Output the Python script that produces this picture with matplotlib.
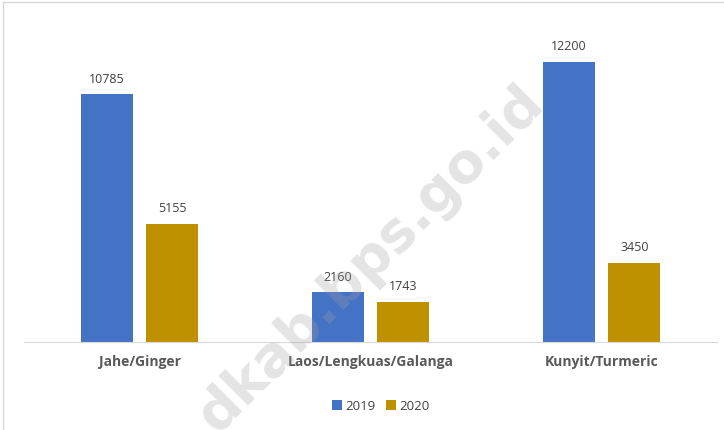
import matplotlib.pyplot as plt
import numpy as np

categories = ['Jahe/Ginger', 'Laos/Lengkuas/Galanga', 'Kunyit/Turmeric']
vals_2019 = [10785, 2160, 12200]
vals_2020 = [5155, 1743, 3450]

blue = '#4472C4'
gold = '#BF9000'
txt = '#404040'

plt.rcParams['font.family'] = ['Open Sans', 'DejaVu Sans']

fig = plt.figure(figsize=(7.24, 4.31), dpi=100)
W, H = 724, 431
ax = fig.add_axes([24 / W, 1 - 343 / H, (717 - 24) / W, (343 - 21.7) / H])

x = np.arange(len(categories))
w = 0.225
off = 0.1418
b1 = ax.bar(x - off, vals_2019, w, color=blue, label='2019')
b2 = ax.bar(x + off, vals_2020, w, color=gold, label='2020')
for bars in (b1, b2):
    for b in bars:
        ax.annotate(f'{int(b.get_height())}', (b.get_x() + b.get_width() / 2, b.get_height()),
                    xytext=(0, 7), textcoords='offset points', ha='center', va='bottom',
                    fontsize=9, color=txt)

ax.set_xlim(-0.5, 2.5)
ax.set_ylim(0, 14000)
ax.set_xticks(x)
ax.set_xticklabels(categories, fontsize=10, fontweight='bold', color='#595959')
ax.tick_params(axis='x', length=0, pad=9)
ax.set_yticks([])
for s in ['top', 'right', 'left']:
    ax.spines[s].set_visible(False)
ax.spines['bottom'].set_color('#D9D9D9')

fig.legend(loc='center', bbox_to_anchor=(381 / W, 1 - 407 / H), ncol=2, frameon=False,
           fontsize=9.5, handlelength=0.7, handleheight=0.7, handletextpad=0.3,
           columnspacing=0.8, labelcolor=txt)

# outer chart border (left and top visible)
fig.add_artist(plt.Line2D([3 / W, 3 / W], [0, 1 - 3 / H], color='#D9D9D9', lw=1))
fig.add_artist(plt.Line2D([3 / W, 1], [1 - 3 / H, 1 - 3 / H], color='#D9D9D9', lw=1))

# watermark
fig.text(371 / W, 1 - 259 / H, 'dkab.bps.go.id', rotation=45, ha='center', va='center',
         fontsize=40, fontweight='bold', color='#a0a0a0', alpha=0.28, zorder=10,
         family='DejaVu Sans')

fig.savefig('out.png', dpi=100)
